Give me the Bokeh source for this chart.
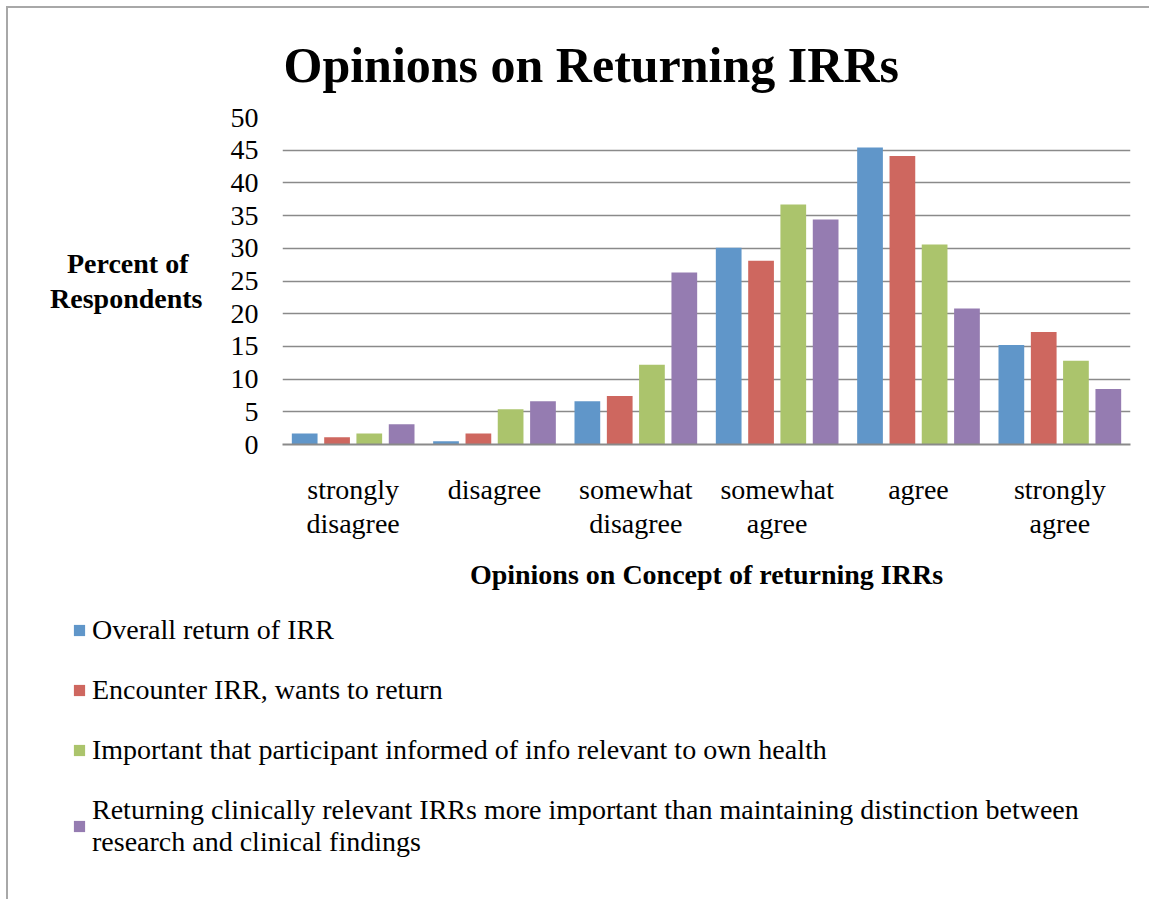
from bokeh.plotting import figure
from bokeh.layouts import column
from bokeh.models import FactorRange, Range1d, Legend, LegendItem, FixedTicker, ColumnDataSource
from bokeh.transform import dodge
from bokeh.embed import file_html
from bokeh.resources import INLINE

categories = ["strongly\ndisagree", "disagree", "somewhat\ndisagree",
              "somewhat\nagree", "agree", "strongly\nagree"]
overall = [1.7, 0.5, 6.6, 30.1, 45.4, 15.2]
encounter = [1.1, 1.7, 7.4, 28.1, 44.1, 17.2]
important = [1.7, 5.4, 12.2, 36.7, 30.6, 12.8]
returning = [3.1, 6.6, 26.3, 34.4, 20.8, 8.5]
series_names = [
    "Overall return of IRR",
    "Encounter IRR, wants to return",
    "Important that participant informed of info relevant to own health",
    "Returning clinically relevant IRRs more important than maintaining distinction between\nresearch and clinical findings",
]
y_ticks = [0, 5, 10, 15, 20, 25, 30, 35, 40, 45, 50]

colors = ["#6096C9", "#CE675F", "#ABC46C", "#957CB1"]
offsets = [-0.343, -0.114, 0.114, 0.343]
FONT = "Liberation Serif"

src = ColumnDataSource(dict(cat=categories, s0=overall, s1=encounter, s2=important, s3=returning))

W = 1141
H_MAIN = 592
H_LEG = 299

p = figure(x_range=FactorRange(factors=categories), y_range=Range1d(0, 50),
           width=W, height=H_MAIN, output_backend="svg", toolbar_location=None,
           min_border_left=274, min_border_right=19, min_border_top=109, min_border_bottom=156)
p.outline_line_color = None
p.frame_align = False

for i in range(4):
    p.vbar(x=dodge("cat", offsets[i], range=p.x_range), top="s%d" % i, width=0.182,
           source=src, fill_color=colors[i], line_color=None)

p.title.text = "Opinions on Returning IRRs"
p.title.text_font = FONT
p.title.text_font_size = "50px"
p.title.text_font_style = "bold"
p.title.text_color = "black"
p.title.text_line_height = 1.0
p.title.align = "left"
p.title.offset = 1
p.title.standoff = 49

p.xgrid.visible = False
p.ygrid.grid_line_color = "#8a8a8a"
p.ygrid.grid_line_width = 1.7

p.yaxis.ticker = FixedTicker(ticks=y_ticks)
p.yaxis.axis_line_color = None
p.yaxis.major_tick_line_color = None
p.yaxis.minor_tick_line_color = None
p.yaxis.major_label_standoff = 18
p.yaxis.major_label_text_font = FONT
p.yaxis.major_label_text_font_size = "28px"
p.yaxis.major_label_text_color = "black"
p.yaxis.axis_label = "Percent of\u00a0\u00a0\nRespondents"
p.yaxis.axis_label_orientation = "horizontal"
p.yaxis.axis_label_text_line_height = 1.1
p.yaxis.axis_label_text_font = FONT
p.yaxis.axis_label_text_font_size = "28px"
p.yaxis.axis_label_text_font_style = "bold"
p.yaxis.axis_label_text_color = "black"
p.yaxis.axis_label_standoff = 25

p.xaxis.axis_line_color = "#8a8a8a"
p.xaxis.axis_line_width = 2
p.xaxis.major_tick_line_color = None
p.xaxis.minor_tick_line_color = None
p.xaxis.major_label_standoff = 23
p.xaxis.major_label_text_font = FONT
p.xaxis.major_label_text_font_size = "28px"
p.xaxis.major_label_text_line_height = 1.1
p.xaxis.major_label_text_color = "black"
p.xaxis.axis_label = "Opinions on Concept of returning IRRs"
p.xaxis.axis_label_text_font = FONT
p.xaxis.axis_label_text_font_size = "28px"
p.xaxis.axis_label_text_font_style = "bold"
p.xaxis.axis_label_text_color = "black"
p.xaxis.axis_label_standoff = 17

# Legend panel: a second figure sharing the same data (its bars are hidden)
pl = figure(x_range=FactorRange(factors=categories), y_range=Range1d(0, 50),
            width=W, height=H_LEG, output_backend="svg", toolbar_location=None,
            x_axis_type=None, y_axis_type=None,
            min_border_left=0, min_border_right=0, min_border_top=0, min_border_bottom=0)
pl.outline_line_color = None
pl.frame_align = False
pl.xgrid.visible = False
pl.ygrid.visible = False
leg_renderers = []
for i in range(4):
    r = pl.vbar(x=dodge("cat", offsets[i], range=pl.x_range), top="s%d" % i,
                width=0.182, source=src, fill_color=colors[i], line_color=None, visible=False)
    leg_renderers.append(r)

items = [LegendItem(label=series_names[i], renderers=[leg_renderers[i]]) for i in range(4)]
legend = Legend(items=items, location=(64, 41), orientation="vertical",
                glyph_width=14, glyph_height=14, label_standoff=6, spacing=28,
                padding=0, margin=0, border_line_color=None, background_fill_alpha=0,
                inactive_fill_alpha=0,
                label_text_font=FONT, label_text_font_size="28px", label_text_color="black",
                label_text_line_height=1.1)
pl.add_layout(legend)

layout = column(p, pl, spacing=0)
layout.styles = {"border-left": "2px solid #a8a8a8", "border-top": "2px solid #a8a8a8",
                 "margin-left": "6px", "margin-top": "6px"}

open("out.html", "w").write(file_html(layout, INLINE))
